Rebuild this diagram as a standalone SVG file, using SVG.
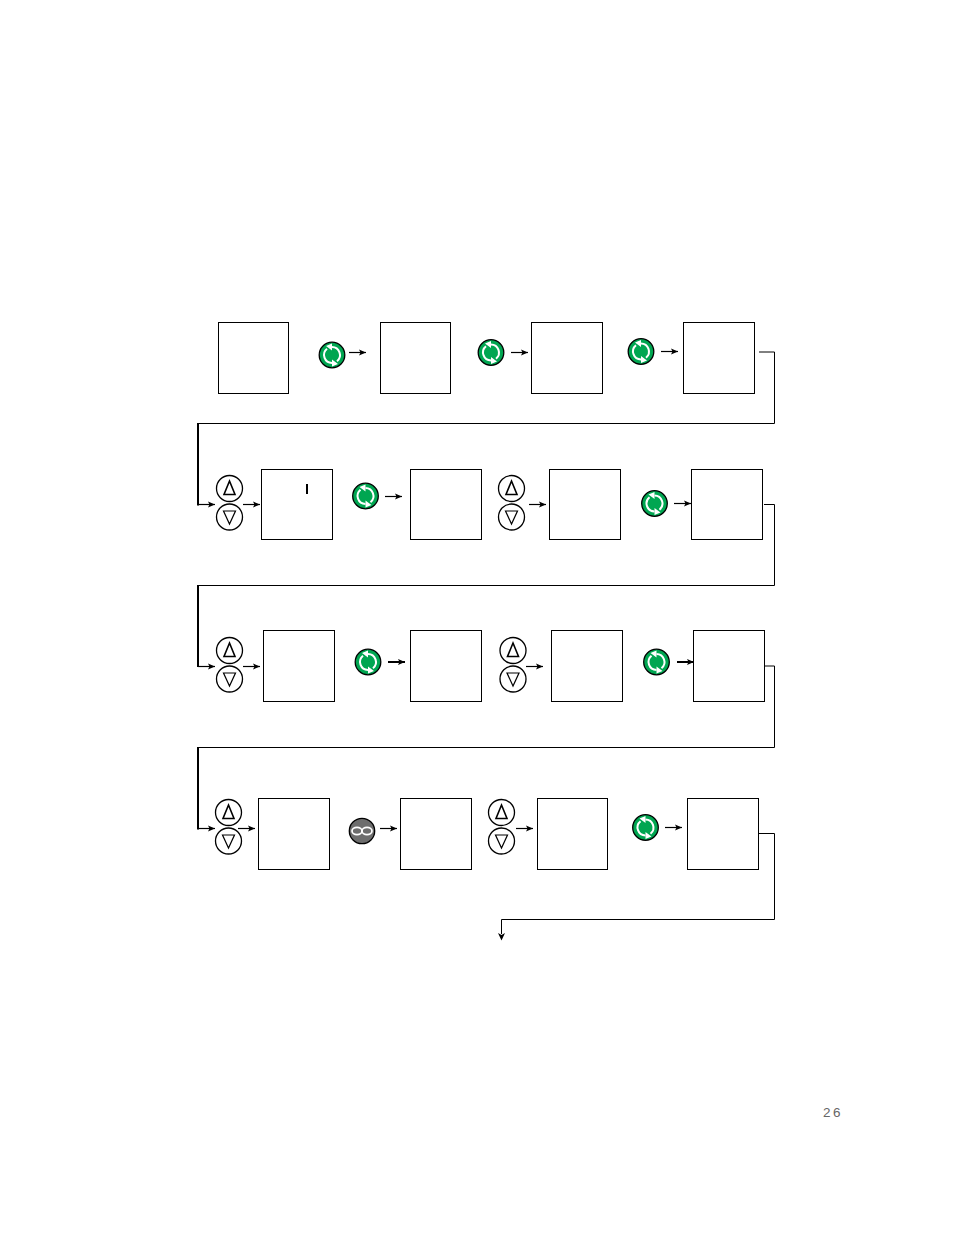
<svg xmlns="http://www.w3.org/2000/svg" width="954" height="1235" viewBox="0 0 954 1235">
<style>
.box{fill:#fff;stroke:#000;stroke-width:1}
.ln{fill:none;stroke:#000;stroke-width:1}
.thick{fill:none;stroke:#000;stroke-width:2}
.a{fill:none;stroke:#000;stroke-width:1.2;marker-end:url(#ah)}
.ab{fill:none;stroke:#000;stroke-width:2;marker-end:url(#ah)}
.pg{font-family:"Liberation Sans",Arial,sans-serif;font-size:13.5px;letter-spacing:2.6px;fill:#666}
</style>
<defs>
<marker id="ah" markerUnits="userSpaceOnUse" markerWidth="8" markerHeight="8" refX="7" refY="4" orient="auto"><path d="M0 1L7 4L0 7L1.5 4Z" fill="#000"/></marker>
<g id="go">
<circle r="12.8" fill="#00a651" stroke="#000" stroke-width="1.300"/>
<path d="M-5 -6.200A8 8 0 0 0 0 8" fill="none" stroke="#fff" stroke-width="2"/>
<path d="M5 6.200A8 8 0 0 0 0 -8" fill="none" stroke="#fff" stroke-width="2"/>
<path d="M0 -11.500V-4.500L-6 -9Z M0 4.500V11.500L6 9Z" fill="#fff"/>
</g>
<g id="up"><circle r="13" fill="#fff" stroke="#000" stroke-width="1.300"/><path d="M0 -7.500L5.500 6H-5.500Z" fill="none" stroke="#000" stroke-width="1.600"/></g>
<g id="dn"><circle r="13" fill="#fff" stroke="#000" stroke-width="1.300"/><path d="M-6 -6H6L0 7Z" fill="none" stroke="#000" stroke-width="1.200"/></g>
</defs>
<g id="connectors">
<path class="ln" d="M759 352H774.500V423.500H198"/><path class="thick" d="M198 423V504.500H199"/><path class="a" d="M198 504.500H215"/>
<path class="ln" d="M764 504.500H774.500V585.500H198"/><path class="thick" d="M198 585V666H199"/><path class="a" d="M198 666.500H215"/>
<path class="ln" d="M765 666H774.500V747.500H198"/><path class="thick" d="M198 747V828.500H199"/><path class="a" d="M198 828.500H215"/>
<path class="ln" d="M759 833.500H774.500V919.500H501.500V934"/><path d="M498 933L501.500 940.500L505 933L501.500 935Z" fill="#000"/>
<path class="a" d="M349 352.500H366"/><path class="a" d="M511 352.500H528"/><path class="a" d="M661 351.500H678"/>
<path class="a" d="M243 504.500H260"/><path class="a" d="M385 496.500H402"/><path class="a" d="M529 504.500H546"/><path class="a" d="M674 503.500H691"/>
<path class="a" d="M243 666.500H260"/><path class="ab" d="M388 662H405"/><path class="a" d="M526 666.500H543"/><path class="ab" d="M677 662H694"/>
<path class="a" d="M238 828.500H255"/><path class="a" d="M380 828.500H397"/><path class="a" d="M516 828.500H533"/><path class="a" d="M665 827.500H682"/>
</g>
<g id="n1"><rect class="box" x="218.500" y="322.500" width="70" height="71"/></g>
<g id="n2"><rect class="box" x="380.500" y="322.500" width="70" height="71"/></g>
<g id="n3"><rect class="box" x="531.500" y="322.500" width="71" height="71"/></g>
<g id="n4"><rect class="box" x="683.500" y="322.500" width="71" height="71"/></g>
<g id="n5"><rect class="box" x="261.500" y="469.500" width="71" height="70"/><rect x="306" y="484" width="2" height="10" fill="#000"/></g>
<g id="n6"><rect class="box" x="410.500" y="469.500" width="71" height="70"/></g>
<g id="n7"><rect class="box" x="549.500" y="469.500" width="71" height="70"/></g>
<g id="n8"><rect class="box" x="691.500" y="469.500" width="71" height="70"/></g>
<g id="n9"><rect class="box" x="263.500" y="630.500" width="71" height="71"/></g>
<g id="n10"><rect class="box" x="410.500" y="630.500" width="71" height="71"/></g>
<g id="n11"><rect class="box" x="551.500" y="630.500" width="71" height="71"/></g>
<g id="n12"><rect class="box" x="693.500" y="630.500" width="71" height="71"/></g>
<g id="n13"><rect class="box" x="258.500" y="798.500" width="71" height="71"/></g>
<g id="n14"><rect class="box" x="400.500" y="798.500" width="71" height="71"/></g>
<g id="n15"><rect class="box" x="537.500" y="798.500" width="70" height="71"/></g>
<g id="n16"><rect class="box" x="687.500" y="798.500" width="71" height="71"/></g>
<g id="buttons-go">
<use href="#go" x="332" y="355"/><use href="#go" x="491" y="352.500"/><use href="#go" x="641" y="351.500"/>
<use href="#go" x="365.500" y="496"/><use href="#go" x="654.500" y="503.500"/>
<use href="#go" x="368" y="662"/><use href="#go" x="656.500" y="662"/>
<use href="#go" x="645.500" y="827.500"/>
</g>
<g id="buttons-updown">
<use href="#up" x="229.500" y="488.500"/><use href="#dn" x="229.500" y="517"/>
<use href="#up" x="511.500" y="488.500"/><use href="#dn" x="511.500" y="517"/>
<use href="#up" x="229.500" y="650.500"/><use href="#dn" x="229.500" y="679"/>
<use href="#up" x="513" y="650.500"/><use href="#dn" x="513" y="679"/>
<use href="#up" x="228.500" y="812.500"/><use href="#dn" x="228.500" y="841"/>
<use href="#up" x="501.500" y="812.500"/><use href="#dn" x="501.500" y="841"/>
</g>
<g id="loop-button">
<circle cx="362" cy="831" r="12.700" fill="#6d6d6d" stroke="#000" stroke-width="1.300"/>
<ellipse cx="357" cy="831" rx="5" ry="3.600" fill="none" stroke="#fff" stroke-width="1.700"/>
<ellipse cx="367" cy="831" rx="5" ry="3.600" fill="none" stroke="#fff" stroke-width="1.700"/>
</g>
<text class="pg" x="823" y="1117">26</text>
</svg>
